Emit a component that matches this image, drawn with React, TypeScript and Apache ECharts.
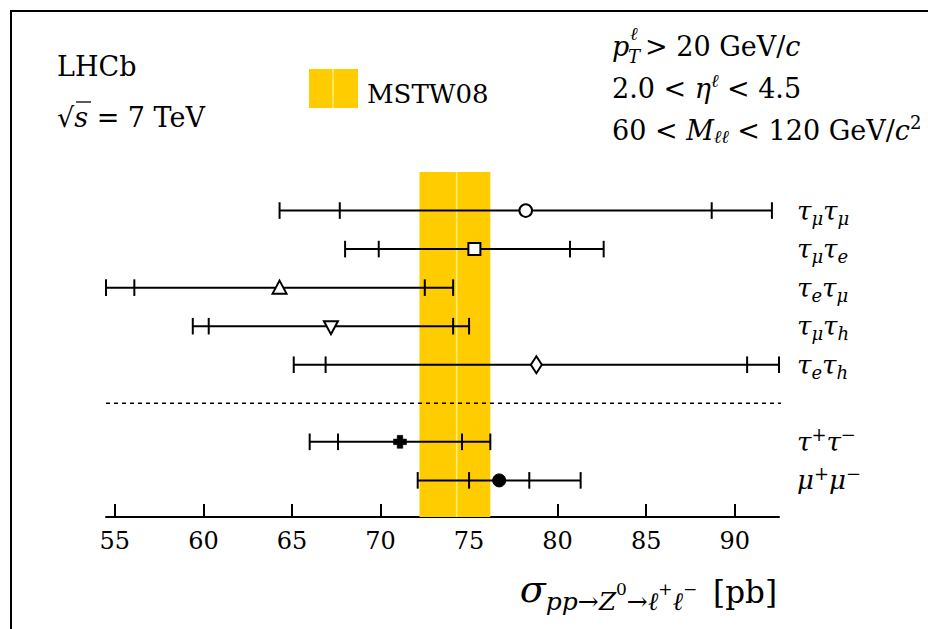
import React, { useEffect, useRef } from "react";
import * as echarts from "echarts";

// Measured cross-sections per channel (pb), in row order from top to bottom
const rowLabels = [
  "{t|τ}{s|μ}{t|τ}{s|μ}",
  "{t|τ}{s|μ}{t|τ}{s|e}",
  "{t|τ}{s|e}{t|τ}{s|μ}",
  "{t|τ}{s|μ}{t|τ}{s|h}",
  "{t|τ}{s|e}{t|τ}{s|h}",
  "",
  "{t|τ}{p|+}{t|τ}{p|−}",
  "{t|μ}{p|+}{t|μ}{p|−}",
];
const rowPositions = [0, 1, 2, 3, 4, 6, 7];
const centralValues = [78.2, 75.3, 64.3, 67.2, 78.8, 71.1, 76.7];
const statErrors = [10.5, 5.4, 8.2, 6.9, 11.9, 3.5, 1.7];
const totalErrors = [13.9, 7.3, 9.8, 7.8, 13.7, 5.1, 4.6];
const markerShapes = ["circle", "square", "triangleUp", "triangleDown", "diamond", "plus", "dot"];

// MSTW08 prediction band
const theoryLow = 72.2;
const theoryHigh = 76.2;
const theoryCentral = 74.3;

// Separator between single channels and combinations
const separatorRow = 5;
const separatorRange = [54.5, 97.5];

// Axis settings
const xTicks = [55, 60, 65, 70, 75, 80, 85, 90];
const xMin = 54.5;
const xMax = 92.5;
const yMin = -1;
const yMax = 7.95;

const SERIF = "DejaVu Serif";
const BAND = "#FFCC00";
const BAND_LINE = "#FFF07A";

function markerShape(kind: string, x: number, y: number) {
  const style = { stroke: "#000", lineWidth: 2, fill: "#fff" };
  switch (kind) {
    case "circle":
      return { type: "circle", shape: { cx: x, cy: y, r: 6.3 }, style };
    case "square":
      return { type: "rect", shape: { x: x - 6, y: y - 6, width: 12, height: 12 }, style };
    case "triangleUp":
      return { type: "polygon", shape: { points: [[x, y - 7], [x + 7, y + 6], [x - 7, y + 6]] }, style };
    case "triangleDown":
      return { type: "polygon", shape: { points: [[x, y + 8], [x + 7, y - 5], [x - 7, y - 5]] }, style };
    case "diamond":
      return { type: "polygon", shape: { points: [[x, y - 8.5], [x + 5.5, y], [x, y + 8.5], [x - 5.5, y]] }, style };
    case "plus": {
      const a = 2.8;
      const l = 6.5;
      return {
        type: "polygon",
        shape: {
          points: [
            [x - a, y - l], [x + a, y - l], [x + a, y - a], [x + l, y - a],
            [x + l, y + a], [x + a, y + a], [x + a, y + l], [x - a, y + l],
            [x - a, y + a], [x - l, y + a], [x - l, y - a], [x - a, y - a],
          ],
        },
        style: { fill: "#000", stroke: "#000", lineWidth: 0.5 },
      };
    }
    default:
      return { type: "circle", shape: { cx: x, cy: y, r: 6.5 }, style: { fill: "#000", stroke: "#000", lineWidth: 1 } };
  }
}

// text style helpers: graphic elements use fill, axis label rich tokens use color
const gRoman = (size: number, extra: any = {}) => ({ fontFamily: SERIF, fontSize: size, fill: "#000", ...extra });
const gItalic = (size: number, extra: any = {}) => ({ fontFamily: SERIF, fontStyle: "italic", fontSize: size, fill: "#000", ...extra });

function buildOption() {
  const measurementData = centralValues.map((c, i) => [c, rowPositions[i], statErrors[i], totalErrors[i], i]);

  return {
    animation: false,
    grid: { left: 106, top: 172, width: 673, height: 345 },
    xAxis: {
      type: "value",
      min: xMin,
      max: xMax,
      splitLine: { show: false },
      axisLine: { show: true, onZero: false, lineStyle: { color: "#000", width: 2 } },
      axisTick: { show: true, inside: true, length: 13, customValues: xTicks, lineStyle: { color: "#000", width: 2 } },
      axisLabel: { customValues: xTicks, color: "#000", fontFamily: SERIF, fontSize: 24, margin: 12, hideOverlap: false },
    },
    yAxis: {
      type: "value",
      inverse: true,
      min: yMin,
      max: yMax,
      position: "right",
      splitLine: { show: false },
      axisLine: { show: false },
      axisTick: { show: false },
      axisLabel: {
        customValues: rowPositions,
        margin: 18,
        align: "left",
        hideOverlap: false,
        fontFamily: SERIF,
        formatter: (v: number) => rowLabels[Math.round(v)] || "",
        rich: {
          t: { fontFamily: SERIF, fontStyle: "italic", fontSize: 26, lineHeight: 32, color: "#000" },
          s: { fontFamily: SERIF, fontStyle: "italic", fontSize: 18, lineHeight: 16, padding: [15, 0, 0, 0], color: "#000" },
          p: { fontFamily: SERIF, fontSize: 18, lineHeight: 16, padding: [0, 0, 14, 0], color: "#000" },
        },
      },
    },
    series: [
      {
        type: "custom",
        z: 1,
        silent: true,
        data: [[theoryLow, theoryHigh, theoryCentral]],
        encode: { x: [0, 1, 2] },
        renderItem: (_p: any, api: any) => {
          const a = api.coord([api.value(0), yMin]);
          const b = api.coord([api.value(1), yMax]);
          const m0 = api.coord([api.value(2), yMin]);
          const m1 = api.coord([api.value(2), yMax]);
          return {
            type: "group",
            children: [
              { type: "rect", shape: { x: a[0], y: a[1], width: b[0] - a[0], height: b[1] - a[1] }, style: { fill: BAND } },
              { type: "line", shape: { x1: m0[0], y1: m0[1], x2: m1[0], y2: m1[1] }, style: { stroke: BAND_LINE, lineWidth: 1.5 } },
            ],
          };
        },
      },
      {
        type: "line",
        z: 2,
        silent: true,
        clip: false,
        symbol: "none",
        data: [[separatorRange[0], separatorRow], [separatorRange[1], separatorRow]],
        lineStyle: { color: "#000", width: 1.6, type: [4, 4] },
      },
      {
        type: "custom",
        z: 3,
        silent: true,
        data: measurementData,
        encode: { x: 0, y: 1 },
        renderItem: (_p: any, api: any) => {
          const c = api.value(0);
          const row = api.value(1);
          const st = api.value(2);
          const tot = api.value(3);
          const k = api.value(4);
          const pc = api.coord([c, row]);
          const y = pc[1];
          const xs = [c - tot, c - st, c + st, c + tot].map((v) => api.coord([v, row])[0]);
          const h = 8.3;
          const line = { stroke: "#000", lineWidth: 2 };
          const children: any[] = [{ type: "line", shape: { x1: xs[0], y1: y, x2: xs[3], y2: y }, style: line }];
          xs.forEach((x) => {
            children.push({ type: "line", shape: { x1: x, y1: y - h, x2: x, y2: y + h }, style: line });
          });
          children.push(markerShape(markerShapes[k], pc[0], y));
          return { type: "group", children };
        },
      },
    ],
    graphic: [
      // frame
      { type: "rect", silent: true, shape: { x: 11, y: 11, width: 1200, height: 1000 }, style: { fill: "none", stroke: "#000", lineWidth: 2 } },
      { type: "text", x: 57, y: 66, style: { text: "LHCb", ...gRoman(27), verticalAlign: "middle" } },
      {
        type: "text",
        x: 57,
        y: 117,
        style: {
          text: "{r|√}{i|s}{q| = 7 TeV}",
          verticalAlign: "middle",
          rich: { r: gRoman(27), i: gItalic(27), q: gRoman(27) },
        },
      },
      { type: "line", shape: { x1: 76, y1: 102, x2: 91, y2: 102 }, style: { stroke: "#000", lineWidth: 1.3 } },
      // legend
      { type: "rect", shape: { x: 309, y: 69, width: 49, height: 39 }, style: { fill: BAND } },
      { type: "line", shape: { x1: 333, y1: 69, x2: 333, y2: 108 }, style: { stroke: BAND_LINE, lineWidth: 1.5 } },
      { type: "text", x: 367, y: 94, style: { text: "MSTW08", ...gRoman(26), verticalAlign: "middle" } },
      // selection cuts
      { type: "text", x: 612, y: 46, style: { text: "p", ...gItalic(27), verticalAlign: "middle" } },
      { type: "text", x: 630, y: 33, style: { text: "ℓ", ...gItalic(18), verticalAlign: "middle" } },
      { type: "text", x: 628, y: 56, style: { text: "T", ...gItalic(18), verticalAlign: "middle" } },
      {
        type: "text",
        x: 645,
        y: 46,
        style: {
          text: "{r|> 20 GeV/}{i|c}",
          verticalAlign: "middle",
          rich: { r: gRoman(27), i: gItalic(27) },
        },
      },
      {
        type: "text",
        x: 612,
        y: 88,
        style: {
          text: "{a|2.0 < }{i|η}{sp|ℓ}{b| < 4.5}",
          verticalAlign: "middle",
          rich: {
            a: gRoman(27, { lineHeight: 36 }),
            b: gRoman(27, { lineHeight: 36 }),
            i: gItalic(27, { lineHeight: 36 }),
            sp: gItalic(18, { lineHeight: 18, padding: [0, 0, 15, 0] }),
          },
        },
      },
      {
        type: "text",
        x: 612,
        y: 130,
        style: {
          text: "{a|60 < }{i|M}{sb|ℓℓ}{b| < 120 GeV/}{c|c}{sp|2}",
          verticalAlign: "middle",
          rich: {
            a: gRoman(27, { lineHeight: 36 }),
            b: gRoman(27, { lineHeight: 36 }),
            i: gItalic(27, { lineHeight: 36 }),
            c: gItalic(27, { lineHeight: 36 }),
            sb: gItalic(18, { lineHeight: 18, padding: [13, 0, 0, 0] }),
            sp: gRoman(18, { lineHeight: 18, padding: [0, 0, 15, 0] }),
          },
        },
      },
      // x-axis title
      {
        type: "text",
        x: 777,
        y: 592,
        style: {
          text: "{sg|σ}{sb|pp→Z}{s0|0}{sb|→ℓ}{s0|+}{sb|ℓ}{s0|−}{gap|\u2002\u2002}{pb|[pb]}",
          align: "right",
          verticalAlign: "middle",
          rich: {
            sg: gItalic(38, { lineHeight: 44, padding: [0, 0, 6, 0] }),
            sb: gItalic(25, { lineHeight: 24, padding: [18, 0, 0, 0] }),
            s0: gRoman(17, { lineHeight: 16, padding: [0, 0, 6, 0] }),
            gap: gRoman(16, { lineHeight: 16 }),
            pb: gRoman(31, { lineHeight: 44 }),
          },
        },
      },
    ],
  };
}

export default function App() {
  const ref = useRef<HTMLDivElement>(null);
  useEffect(() => {
    if (!ref.current) return;
    const chart = echarts.init(ref.current, null, { renderer: "svg" });
    chart.setOption(buildOption() as any);
    return () => chart.dispose();
  }, []);
  return <div ref={ref} style={{ position: "fixed", left: 0, top: 0, width: 928, height: 629, background: "#fff" }} />;
}
